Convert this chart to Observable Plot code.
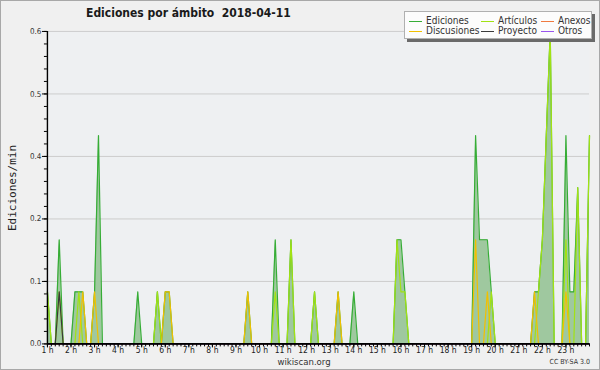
<!DOCTYPE html>
<html><head><meta charset="utf-8">
<script src="https://cdn.jsdelivr.net/npm/d3@7"></script>
<script src="https://cdn.jsdelivr.net/npm/@observablehq/plot@0.6"></script>
<style>
html,body{margin:0;padding:0;background:#f0f0f0;}
#wrap{position:relative;width:600px;height:370px;box-sizing:border-box;border:1px solid #a8a8a8;background:#f0f0f0;overflow:hidden;font-family:"DejaVu Sans Condensed","DejaVu Sans",sans-serif;font-stretch:condensed;color:#222;}
#chart{position:absolute;left:-1px;top:-1px;}
#title{position:absolute;left:85px;top:5px;font-weight:bold;font-size:12px;white-space:pre;color:#1a1a1a;}
#ylab{position:absolute;left:11px;top:187px;transform:translate(-50%,-50%) rotate(-90deg);font-family:"DejaVu Sans Mono",monospace;font-size:11px;white-space:nowrap;color:#222;}
#legend{position:absolute;left:403px;top:10px;width:186px;height:26px;background:#fcfcfc;border:1px solid #b0b0b0;box-shadow:3px 3px 0 #6a6a6a;}
.li{position:absolute;font-size:10px;line-height:10px;white-space:nowrap;color:#333;}
.sw{position:absolute;width:13px;height:0;border-top:1px solid;}
#foot{position:absolute;left:303px;top:355px;transform:translateX(-50%);font-size:9.5px;color:#333;}
#cc{position:absolute;right:9px;top:357px;font-size:7px;color:#333;}
</style></head>
<body>
<div id="wrap">
  <div id="chart"></div>
  <div id="title"></div>
  <div id="ylab"></div>
  <div id="legend"></div>
  <div id="foot"></div>
  <div id="cc"></div>
</div>
<script>
// ---- data: edits per minute in 10-minute bins, from 1 h to 24 h ----
const titleText = "Ediciones por ámbito  2018-04-11";
const yLabel = "Ediciones/min";
const seriesNames = ["Ediciones","Artículos","Anexos","Discusiones","Proyecto","Otros"];
const seriesColors = ["#36ad36","#a2e214","#f07a40","#f2c000","#3a3a3a","#9a55ee"];

const ediciones = [
 .1,0,0,.2,0,0,0,.1,.1,.1,0,0,
 .1,.4,0,0,0,0,0,0,0,0,0,.1,
 0,0,0,0,.1,0,.1,.1,0,0,0,0,
 0,0,0,0,0,0,0,0,0,0,0,0,
 0,0,0,.1,0,0,0,0,0,0,.2,0,
 0,0,.2,0,0,0,0,0,.1,0,0,0,
 0,0,.1,0,0,0,.1,0,0,0,0,0,
 0,0,0,0,0,.2,.2,.1,0,0,0,0,
 0,0,0,0,0,0,0,0,0,0,0,0,
 0,.4,.2,.2,.2,.1,0,0,0,0,0,0,
 0,0,0,0,.1,.1,.2,.4,.6,0,0,0,
 .4,.1,.1,.3,0,0,.4];
const articulos = [
 .1,0,0,.1,0,0,0,0,.1,0,0,0,
 0,0,0,0,0,0,0,0,0,0,0,0,
 0,0,0,0,.1,0,0,0,0,0,0,0,
 0,0,0,0,0,0,0,0,0,0,0,0,
 0,0,0,0,0,0,0,0,0,0,.1,0,
 0,0,.2,0,0,0,0,0,.1,0,0,0,
 0,0,0,0,0,0,0,0,0,0,0,0,
 0,0,0,0,0,.2,.1,.1,0,0,0,0,
 0,0,0,0,0,0,0,0,0,0,0,0,
 0,0,0,0,0,.1,0,0,0,0,0,0,
 0,0,0,0,0,.1,.2,.4,.6,0,0,0,
 .2,0,0,.3,0,0,.4];
const anexos = [
 0,0,0,0,0,0,0,0,0,0,0,0, 0,0,0,0,0,0,0,0,0,0,0,0,
 0,0,0,0,0,0,0,0,0,0,0,0, 0,0,0,0,0,0,0,0,0,0,0,0,
 0,0,0,0,0,0,0,0,0,0,0,0, 0,0,0,0,0,0,0,0,0,0,0,0,
 0,0,0,0,0,0,0,0,0,0,0,0, 0,0,0,0,0,0,0,0,0,0,0,0,
 0,0,0,0,0,0,0,0,0,0,0,0, 0,0,0,0,0,0,0,0,0,0,0,0,
 0,0,0,0,0,0,0,0,0,0,0,0, 0,0,0,0,0,0,0];
const discusiones = [
 0,0,0,0,0,0,0,0,0,.1,0,0,
 .1,0,0,0,0,0,0,0,0,0,0,0,
 0,0,0,0,0,0,.1,.1,0,0,0,0,
 0,0,0,0,0,0,0,0,0,0,0,0,
 0,0,0,.1,0,0,0,0,0,0,0,0,
 0,0,0,0,0,0,0,0,0,0,0,0,
 0,0,.1,0,0,0,0,0,0,0,0,0,
 0,0,0,0,0,0,0,0,0,0,0,0,
 0,0,0,0,0,0,0,0,0,0,0,0,
 0,.2,0,0,.1,0,0,0,0,0,0,0,
 0,0,0,0,.1,0,0,0,0,0,0,0,
 .1,0,0,0,0,0,0];
const proyecto = [
 0,0,0,.1,0,0,0,0,0,0,0,0, 0,0,0,0,0,0,0,0,0,0,0,0,
 0,0,0,0,0,0,0,0,0,0,0,0, 0,0,0,0,0,0,0,0,0,0,0,0,
 0,0,0,0,0,0,0,0,0,0,0,0, 0,0,0,0,0,0,0,0,0,0,0,0,
 0,0,0,0,0,0,0,0,0,0,0,0, 0,0,0,0,0,0,0,0,0,0,0,0,
 0,0,0,0,0,0,0,0,0,0,0,0, 0,0,0,0,0,0,0,0,0,0,0,0,
 0,0,0,0,0,0,0,0,0,0,0,0, 0,0,0,0,0,0,0];
const otros = [
 0,0,0,0,0,0,0,0,0,0,0,0, 0,0,0,0,0,0,0,0,0,0,0,0,
 0,0,0,0,0,0,0,0,0,0,0,0, 0,0,0,0,0,0,0,0,0,0,0,0,
 0,0,0,0,0,0,0,0,0,0,0,0, 0,0,0,0,0,0,0,0,0,0,0,0,
 0,0,0,0,0,0,0,0,0,0,0,0, 0,0,0,0,0,0,0,0,0,0,0,0,
 0,0,0,0,0,0,0,0,0,0,0,0, 0,0,0,0,0,0,0,0,0,0,0,0,
 0,0,0,0,0,0,0,0,0,0,0,0, 0,0,0,0,0,0,0];

const yTicks = [0, 0.12, 0.24, 0.36, 0.48, 0.6];
const yTickLabels = ["0.0","0.1","0.2","0.4","0.5","0.6"];
const xTicks = [1,2,3,4,5,6,7,8,9,10,11,12,13,14,15,16,17,18,19,20,21,22,23];
const xTickLabels = ["1 h","2 h","3 h","4 h","5 h","6 h","7 h","8 h","9 h","10 h","11 h","12 h","13 h","14 h","15 h","16 h","17 h","18 h","19 h","20 h","21 h","22 h","23 h"];
const startHour = 1, binsPerHour = 6, endHour = 24;

// ---- build ----
const allSeries = [ediciones, articulos, anexos, discusiones, proyecto, otros];
const tAt = i => startHour + i / binsPerHour;
const rowsOf = vals => vals.map((v, i) => ({t: tAt(i), v}));
const yMinor = d3.range(0, 0.6001, 0.024);
const xMinor = ediciones.map((_, i) => tAt(i));

const chart = Plot.plot({
  width: 600, height: 370,
  marginLeft: 47, marginRight: 10, marginTop: 31, marginBottom: 26,
  style: {background: "transparent", color: "#333", fontFamily: "'DejaVu Sans Condensed','DejaVu Sans',sans-serif", fontSize: "8px", fontStretch: "condensed"},
  x: {domain: [startHour, endHour], axis: null},
  y: {domain: [0, 0.6], axis: null},
  marks: [
    Plot.frame({fill: "#eef0f2", stroke: "none"}),
    Plot.gridY(yTicks, {stroke: "#cdcdcd", strokeOpacity: 1}),
    Plot.areaY(rowsOf(ediciones), {x: "t", y: "v", fill: "#9fc89f", curve: "linear"}),
    ...allSeries.map((vals, k) => Plot.lineY(rowsOf(vals), {x: "t", y: "v", stroke: seriesColors[k], strokeWidth: 1.2, curve: "linear"})),
    Plot.ruleY([0], {stroke: "#000", strokeWidth: 1.6}),
    Plot.ruleX([startHour], {stroke: "#000", strokeWidth: 1.4}),
    Plot.axisY(yMinor, {label: null, tickSize: 3, tickFormat: () => "", stroke: "#000"}),
    Plot.axisY(yTicks, {label: null, tickSize: 5, tickPadding: 1, stroke: "#000", fill: "#333", tickFormat: d => yTickLabels[yTicks.indexOf(d)]}),
    Plot.axisX(xMinor, {label: null, tickSize: 3, tickFormat: () => "", stroke: "#000"}),
    Plot.axisX(xTicks, {label: null, tickSize: 4, tickPadding: -1, stroke: "#000", fill: "#222", fontSize: 8.5, tickFormat: d => xTickLabels[xTicks.indexOf(d)]})
  ]
});
document.getElementById("chart").appendChild(chart);

document.getElementById("title").textContent = titleText;
document.getElementById("ylab").textContent = yLabel;
document.getElementById("foot").textContent = "wikiscan.org";
document.getElementById("cc").textContent = "CC BY-SA 3.0";

// legend: 3 columns x 2 rows (row-major order as in the reference)
const legend = document.getElementById("legend");
const colX = [4, 76, 136];
const rowY = [4, 14];
seriesNames.forEach((name, k) => {
  const c = k % 3, r = Math.floor(k / 3);
  const sw = document.createElement("div");
  sw.className = "sw";
  sw.style.left = colX[c] + "px";
  sw.style.top = (rowY[r] + 5) + "px";
  sw.style.borderTopColor = seriesColors[k];
  legend.appendChild(sw);
  const tx = document.createElement("div");
  tx.className = "li";
  tx.style.left = (colX[c] + 17) + "px";
  tx.style.top = rowY[r] + "px";
  tx.textContent = name;
  legend.appendChild(tx);
});
</script>
</body></html>
